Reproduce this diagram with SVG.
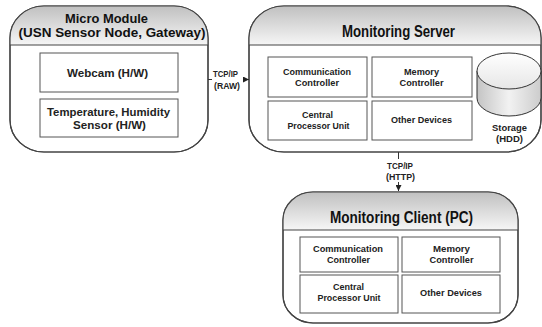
<svg xmlns="http://www.w3.org/2000/svg" width="542" height="327" viewBox="0 0 542 327">
<defs>
<linearGradient id="hdr" x1="0" y1="0" x2="0" y2="1">
<stop offset="0" stop-color="#c0c0c0"/>
<stop offset="1" stop-color="#f6f6f6"/>
</linearGradient>
<linearGradient id="cyl" x1="0" y1="0" x2="1" y2="0">
<stop offset="0" stop-color="#c4c4c4"/>
<stop offset="0.5" stop-color="#f2f2f2"/>
<stop offset="1" stop-color="#cccccc"/>
</linearGradient>
<linearGradient id="cyltop" x1="0" y1="0" x2="0" y2="1">
<stop offset="0" stop-color="#ffffff"/>
<stop offset="1" stop-color="#e6e6e6"/>
</linearGradient>
<clipPath id="c1"><rect x="10" y="6" width="198" height="146" rx="34" ry="32"/></clipPath>
<clipPath id="c2"><rect x="249" y="6" width="292" height="146" rx="35" ry="32"/></clipPath>
<clipPath id="c3"><rect x="283" y="192" width="235" height="131" rx="30" ry="28"/></clipPath>
<marker id="arr" viewBox="0 0 6 6" refX="6" refY="3" markerWidth="6" markerHeight="6" markerUnits="userSpaceOnUse" orient="auto">
<path d="M0,0 L6,3 L0,6 z" fill="#222"/>
</marker>
</defs>
<style>
.outer{fill:#fff;stroke:#444;stroke-width:1.2}
.hline{stroke:#444;stroke-width:1.2}
.box{fill:#fff;stroke:#555;stroke-width:1}
.title{font-family:"Liberation Sans",Arial,sans-serif;font-weight:bold;font-size:12.5px;fill:#111;text-anchor:middle}
.big{font-family:"Liberation Sans",Arial,sans-serif;font-weight:bold;font-size:16px;fill:#111;text-anchor:middle}
.lbl{font-family:"Liberation Sans",Arial,sans-serif;font-weight:bold;font-size:11px;fill:#222;text-anchor:middle}
.sm{font-family:"Liberation Sans",Arial,sans-serif;font-weight:bold;font-size:9.5px;fill:#222;text-anchor:middle}
.conn{stroke:#333;stroke-width:1;fill:none}
</style>
<rect width="542" height="327" fill="#fff"/>

<g id="micro">
<rect class="outer" x="10" y="6" width="198" height="146" rx="34" ry="32"/>
<rect x="10" y="6" width="198" height="39" fill="url(#hdr)" clip-path="url(#c1)"/>
<rect x="10" y="6" width="198" height="146" rx="34" ry="32" fill="none" stroke="#444" stroke-width="1.2"/>
<line class="hline" x1="10" y1="45" x2="208" y2="45"/>
<text class="title" x="106.5" y="23" textLength="83" lengthAdjust="spacingAndGlyphs">Micro Module</text>
<text class="title" x="112" y="37" textLength="187" lengthAdjust="spacingAndGlyphs">(USN Sensor Node, Gateway)</text>
<rect class="box" x="40" y="53" width="138" height="39"/>
<text class="lbl" x="107.5" y="77" textLength="81" lengthAdjust="spacingAndGlyphs">Webcam (H/W)</text>
<rect class="box" x="40" y="99" width="138" height="38"/>
<text class="lbl" x="108.5" y="116" textLength="123" lengthAdjust="spacingAndGlyphs">Temperature, Humidity</text>
<text class="lbl" x="109.5" y="128.5" textLength="73" lengthAdjust="spacingAndGlyphs">Sensor (H/W)</text>
</g>

<g id="server">
<rect class="outer" x="249" y="6" width="292" height="146" rx="35" ry="32"/>
<rect x="249" y="6" width="292" height="39" fill="url(#hdr)" clip-path="url(#c2)"/>
<rect x="249" y="6" width="292" height="146" rx="35" ry="32" fill="none" stroke="#444" stroke-width="1.2"/>
<line class="hline" x1="249" y1="45" x2="541" y2="45"/>
<text class="big" x="398.5" y="37" textLength="113" lengthAdjust="spacingAndGlyphs">Monitoring Server</text>
<rect class="box" x="268" y="57" width="99" height="40"/>
<text class="sm" x="317" y="75" textLength="68" lengthAdjust="spacingAndGlyphs">Communication</text>
<text class="sm" x="317" y="86" textLength="44" lengthAdjust="spacingAndGlyphs">Controller</text>
<rect class="box" x="372" y="57" width="100" height="40"/>
<text class="sm" x="421.5" y="75" textLength="35" lengthAdjust="spacingAndGlyphs">Memory</text>
<text class="sm" x="421.5" y="86" textLength="44" lengthAdjust="spacingAndGlyphs">Controller</text>
<rect class="box" x="268" y="101" width="99" height="39"/>
<text class="sm" x="317.5" y="118" textLength="31" lengthAdjust="spacingAndGlyphs">Central</text>
<text class="sm" x="318.5" y="129" textLength="62" lengthAdjust="spacingAndGlyphs">Processor Unit</text>
<rect class="box" x="372" y="101" width="100" height="39"/>
<text class="sm" x="421.5" y="123" textLength="61" lengthAdjust="spacingAndGlyphs">Other Devices</text>
<path d="M477,71 L477,98 A32,18 0 0 0 541,98 L541,71" fill="url(#cyl)" stroke="#333" stroke-width="1"/>
<ellipse cx="509" cy="71" rx="32" ry="18" fill="url(#cyltop)" stroke="#333" stroke-width="1"/>
<text class="sm" x="509.5" y="131" textLength="35" lengthAdjust="spacingAndGlyphs">Storage</text>
<text class="sm" x="509.5" y="142" textLength="27" lengthAdjust="spacingAndGlyphs">(HDD)</text>
</g>

<g id="client">
<rect class="outer" x="283" y="192" width="235" height="131" rx="30" ry="28"/>
<rect x="283" y="192" width="235" height="38" fill="url(#hdr)" clip-path="url(#c3)"/>
<rect x="283" y="192" width="235" height="131" rx="30" ry="28" fill="none" stroke="#444" stroke-width="1.2"/>
<line class="hline" x1="283" y1="230" x2="518" y2="230"/>
<text class="big" x="401.5" y="223" textLength="143" lengthAdjust="spacingAndGlyphs">Monitoring Client (PC)</text>
<rect class="box" x="300" y="237" width="98" height="35"/>
<text class="sm" x="348" y="252" textLength="70" lengthAdjust="spacingAndGlyphs">Communication</text>
<text class="sm" x="348.5" y="263" textLength="43" lengthAdjust="spacingAndGlyphs">Controller</text>
<rect class="box" x="402" y="237" width="98" height="35"/>
<text class="sm" x="451.5" y="252" textLength="37" lengthAdjust="spacingAndGlyphs">Memory</text>
<text class="sm" x="451.5" y="263" textLength="44" lengthAdjust="spacingAndGlyphs">Controller</text>
<rect class="box" x="300" y="275" width="98" height="38"/>
<text class="sm" x="348.5" y="290" textLength="31" lengthAdjust="spacingAndGlyphs">Central</text>
<text class="sm" x="349" y="301" textLength="63" lengthAdjust="spacingAndGlyphs">Processor Unit</text>
<rect class="box" x="402" y="275" width="98" height="38"/>
<text class="sm" x="451" y="296" textLength="62" lengthAdjust="spacingAndGlyphs">Other Devices</text>
</g>

<g id="connectors">
<line class="conn" x1="208" y1="79.5" x2="212" y2="79.5"/>
<line class="conn" x1="243" y1="79.5" x2="249" y2="79.5" marker-end="url(#arr)"/>
<text class="sm" x="225.5" y="77" textLength="25" lengthAdjust="spacingAndGlyphs">TCP/IP</text>
<text class="sm" x="227" y="89" textLength="26" lengthAdjust="spacingAndGlyphs">(RAW)</text>
<line class="conn" x1="398.5" y1="152" x2="398.5" y2="159"/>
<line class="conn" x1="398.5" y1="182" x2="398.5" y2="191" marker-end="url(#arr)"/>
<text class="sm" x="400" y="169" textLength="26" lengthAdjust="spacingAndGlyphs">TCP/IP</text>
<text class="sm" x="400.5" y="180" textLength="29" lengthAdjust="spacingAndGlyphs">(HTTP)</text>
</g>
</svg>
